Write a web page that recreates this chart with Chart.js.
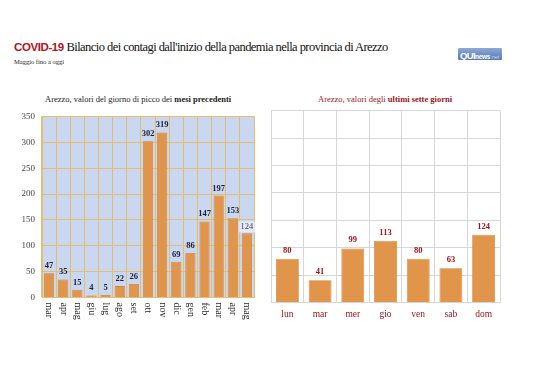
<!DOCTYPE html>
<html><head><meta charset="utf-8">
<script src="https://cdn.jsdelivr.net/npm/chart.js@4.4.1/dist/chart.umd.min.js"></script>
<style>
html,body{margin:0;padding:0;background:#fff;width:538px;height:380px;overflow:hidden;position:relative;font-family:"Liberation Serif",serif;}
.abs{position:absolute;white-space:nowrap;}
#title{left:14px;top:40px;font-size:12.5px;color:#111;letter-spacing:-0.55px;font-family:"Liberation Serif",serif;}
#title b{font-family:"Liberation Sans",sans-serif;color:#b0141a;font-size:11.5px;letter-spacing:-0.4px;}
#sub{left:14px;top:58px;font-size:6.5px;color:#222;}
#logo{left:458px;top:48px;width:44px;height:12px;background:linear-gradient(#8fa9d6,#5677b8);border-radius:1px;font-family:"Liberation Sans",sans-serif;color:#fff;font-weight:bold;line-height:12px;overflow:hidden;}
#logo span.q{font-size:9.5px;margin-left:2px;letter-spacing:-0.6px;}
#logo span.n{font-size:6.5px;letter-spacing:-0.3px;}
#logo span.t{font-size:5.5px;color:#d0dcf2;font-weight:normal;}
#lsub{left:45px;top:94px;font-size:8.5px;color:#222;}
#rsub{left:318px;top:94px;font-size:8.5px;color:#a0141a;}
#c1{position:absolute;left:0;top:104px;}
#c2{position:absolute;left:268px;top:100px;}
</style></head><body>
<div class="abs" id="title"><b>COVID-19</b> Bilancio dei contagi dall'inizio della pandemia nella provincia di Arezzo</div>
<div class="abs" id="sub">Maggio fino a oggi</div>
<div class="abs" id="logo"><span class="q">QUI</span><span class="n">news</span><span class="t">.net</span></div>
<div class="abs" id="lsub">Arezzo, valori del giorno di picco dei <b>mesi precedenti</b></div>
<div class="abs" id="rsub">Arezzo, valori degli <b>ultimi sette giorni</b></div>
<canvas id="c1" width="268" height="236"></canvas>
<canvas id="c2" width="270" height="230"></canvas>
<script>
const monthLabels = ["mar","apr","mag","giu","lug","ago","set","ott","nov","dic","gen","feb","mar","apr","mag"];
const monthValues = [47,35,15,4,5,22,26,302,319,69,86,147,197,153,124];
const dayLabels = ["lun","mar","mer","gio","ven","sab","dom"];
const dayValues = [80,41,99,113,80,63,124];
const yTicks = [0,50,100,150,200,250,300,350];

const SERIF = "Liberation Serif";

const bgPlugin = {
  id:'bg',
  beforeDraw(chart, args, opts){
    if(!opts.color) return;
    const {ctx, chartArea:a} = chart;
    ctx.save(); ctx.fillStyle = opts.color;
    ctx.fillRect(a.left, a.top, a.right-a.left, a.bottom-a.top);
    ctx.restore();
  }
};

const labelPlugin = {
  id:'vlabels',
  afterDatasetsDraw(chart, args, opts){
    const {ctx} = chart;
    const meta = chart.getDatasetMeta(0);
    const data = chart.data.datasets[0].data;
    ctx.save();
    ctx.textAlign='center'; ctx.textBaseline='bottom';
    meta.data.forEach((bar,i)=>{
      const txt = String(data[i]);
      if(opts.lastBox && i===data.length-1){
        ctx.font = `8.5px "${SERIF}"`;
        const w = ctx.measureText(txt).width+3;
        ctx.fillStyle = '#e4ebf7';
        ctx.fillRect(bar.x-w/2, bar.y-12, w, 11);
        ctx.fillStyle = '#3a3f55';
        ctx.fillText(txt, bar.x, bar.y-2);
      } else {
        ctx.font = `bold 8.5px "${SERIF}"`;
        ctx.fillStyle = opts.color;
        ctx.fillText(txt, bar.x, bar.y-opts.gap);
      }
    });
    ctx.restore();
  }
};

const rotLabels = {
  id:'rotx',
  afterDraw(chart, args, opts){
    if(!opts.on) return;
    const {ctx} = chart;
    const x = chart.scales.x;
    ctx.save();
    ctx.font = `10px "${SERIF}"`;
    ctx.fillStyle = '#2a2a2a';
    ctx.textAlign='left'; ctx.textBaseline='middle';
    chart.data.labels.forEach((l,i)=>{
      const px = x.getPixelForTick(i);
      ctx.save();
      ctx.translate(px, chart.chartArea.bottom+5);
      ctx.rotate(Math.PI/2);
      ctx.fillText(l,0,0);
      ctx.restore();
    });
    ctx.restore();
  }
};

new Chart(document.getElementById('c1'), {
  type:'bar',
  data:{labels:monthLabels, datasets:[{data:monthValues, backgroundColor:'#e0954a', borderColor:'#cf8238', borderWidth:0.8, barPercentage:0.72, categoryPercentage:1}]},
  options:{
    responsive:false, animation:false,
    layout:{padding:{top:9,right:14,left:0,bottom:0}},
    plugins:{legend:{display:false}, tooltip:{enabled:false},
      bg:{color:'#c9d8f0'}, vlabels:{color:'#1c1f3a', gap:3, lastBox:true}, rotx:{on:true}},
    scales:{
      x:{grid:{color:'#e6bd6a', offset:true, drawTicks:false, lineWidth:1}, border:{color:'#e6bd6a'},
         ticks:{display:false}, afterFit(s){s.height=42.5;}},
      y:{min:0,max:350, afterBuildTicks(s){s.ticks = yTicks.map(v=>({value:v}));},
         grid:{color:'#e6bd6a', drawTicks:false}, border:{color:'#e6bd6a'},
         ticks:{font:{family:SERIF,size:9}, color:'#444', padding:7},
         afterFit(s){s.width=42;}}
    }
  },
  plugins:[bgPlugin,labelPlugin,rotLabels]
});

new Chart(document.getElementById('c2'), {
  type:'bar',
  data:{labels:dayLabels, datasets:[{data:dayValues, backgroundColor:'#e0954a', borderColor:'#cf8238', borderWidth:0.8, barPercentage:0.7, categoryPercentage:1}]},
  options:{
    responsive:false, animation:false,
    layout:{padding:{top:10.7,right:38,left:3,bottom:0}},
    plugins:{legend:{display:false}, tooltip:{enabled:false},
      bg:{}, vlabels:{color:'#a0141a', gap:4}, rotx:{on:false}},
    scales:{
      x:{grid:{color:'#d6d6d6', offset:true, drawTicks:false}, border:{color:'#d6d6d6'},
         ticks:{font:{family:SERIF,size:9.5}, color:'#a0141a', padding:6, maxRotation:0},
         afterFit(s){s.height=27.3;}},
      y:{min:0,max:350, afterBuildTicks(s){s.ticks = yTicks.map(v=>({value:v}));},
         grid:{color:'#d6d6d6', drawTicks:false}, border:{color:'#d6d6d6'},
         ticks:{display:false}, afterFit(s){s.width=0;}}
    }
  },
  plugins:[bgPlugin,labelPlugin]
});
</script>
</body></html>
